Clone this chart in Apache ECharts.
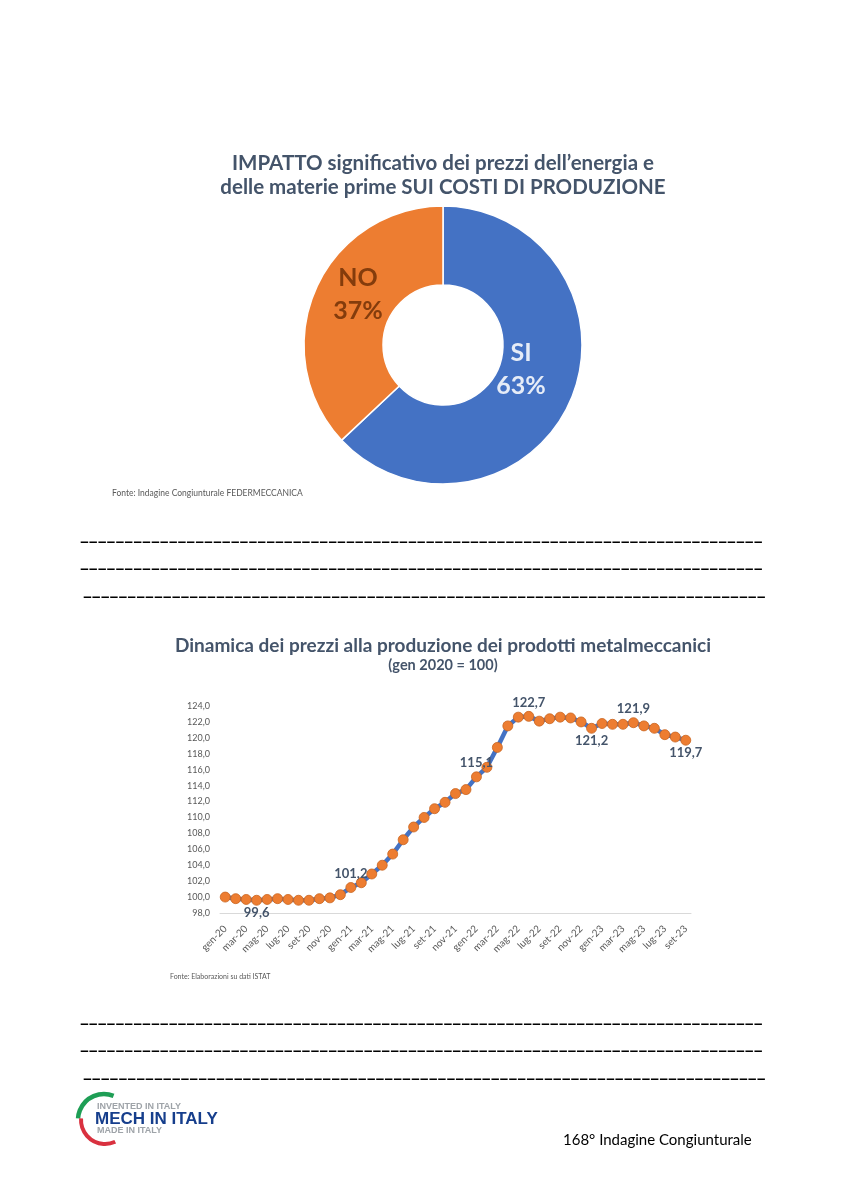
<!DOCTYPE html>
<html><head><meta charset="utf-8">
<script src="https://cdn.jsdelivr.net/npm/echarts@6/dist/echarts.min.js"></script>
<style>html,body{margin:0;padding:0;background:#fff}#c{width:849px;height:1200px}</style>
</head><body><div id="c"></div>
<script>
// ---- Data ----
const pieTitle = ["IMPATTO significativo dei prezzi dell\u2019energia e", "delle materie prime SUI COSTI DI PRODUZIONE"];
const pieCategories = ["SI", "NO"];
const pieValues = [63, 37];
const pieSource = "Fonte: Indagine Congiunturale FEDERMECCANICA";

const lineTitle = "Dinamica dei prezzi alla produzione dei prodotti metalmeccanici";
const lineSubtitle = "(gen 2020 = 100)";
const months = [
  "gen-20","feb-20","mar-20","apr-20","mag-20","giu-20","lug-20","ago-20","set-20","ott-20","nov-20","dic-20",
  "gen-21","feb-21","mar-21","apr-21","mag-21","giu-21","lug-21","ago-21","set-21","ott-21","nov-21","dic-21",
  "gen-22","feb-22","mar-22","apr-22","mag-22","giu-22","lug-22","ago-22","set-22","ott-22","nov-22","dic-22",
  "gen-23","feb-23","mar-23","apr-23","mag-23","giu-23","lug-23","ago-23","set-23"
];
const priceIndex = [
  100.0, 99.8, 99.7, 99.6, 99.7, 99.8, 99.7, 99.6, 99.6, 99.8, 99.9, 100.3,
  101.2, 101.8, 102.9, 104.0, 105.4, 107.2, 108.8, 110.0, 111.1, 111.9, 113.0, 113.5,
  115.1, 116.3, 118.8, 121.5, 122.6, 122.7, 122.1, 122.4, 122.6, 122.5, 122.0, 121.2,
  121.8, 121.7, 121.7, 121.9, 121.5, 121.2, 120.4, 120.1, 119.7
];
const labeledMonths = ["apr-20", "gen-21", "gen-22", "giu-22", "dic-22", "apr-23", "set-23"];
const labelBelow = ["apr-20", "dic-22", "set-23"];
const yMin = 98, yMax = 124, yStep = 2;
const lineSource = "Fonte: Elaborazioni su dati ISTAT";
const footerText = "168\u00b0 Indagine Congiunturale";
const logoTexts = ["INVENTED IN ITALY", "MECH IN ITALY", "MADE IN ITALY"];

// ---- Styles ----
const TITLE_COLOR = "#44546A";
const BLUE = "#4472C4", ORANGE = "#ED7D31";
const fmt = v => v.toFixed(1).replace(".", ",");

function underscores(font, width) {
  const cv = document.createElement("canvas").getContext("2d");
  cv.font = font;
  const w = cv.measureText("_").width;
  return "_".repeat(Math.round(width / w));
}
const ulFont = "bold 19px Lato";
const ulStr = underscores(ulFont, 683);

const chart = echarts.init(document.getElementById("c"), null, {renderer: "canvas"});

const lineData = priceIndex.map((v, i) => {
  const m = months[i];
  if (labeledMonths.includes(m)) {
    const below = labelBelow.includes(m);
    return {
      value: v,
      label: {
        show: true,
        position: below ? "bottom" : "top",
        distance: below ? 1 : 2,
        offset: m === "set-23" ? [10, 0] : (m === "gen-21" || m === "gen-22" ? [-1, 0] : [0, 0]),
        formatter: p => fmt(p.value),
        fontFamily: "Lato", fontWeight: "bold", fontSize: 13, color: TITLE_COLOR
      }
    };
  }
  return v;
});

const graphics = [];
function txt(x, y, text, font, fill, align) {
  graphics.push({type: "text", x: x, y: y, z: 10,
    style: {text: text, font: font, fill: fill, align: align || "left", verticalAlign: "middle"}});
}
// Pie title
txt(443, 163, pieTitle[0], "bold 20.5px Lato", TITLE_COLOR, "center");
txt(443, 187, pieTitle[1], "bold 20.5px Lato", TITLE_COLOR, "center");
txt(112, 493, pieSource, "8.5px Lato", "#595959");
// underscore lines
[[80, 543], [80, 570], [83, 598], [80, 1025], [80, 1052], [83, 1080]].forEach(p => {
  graphics.push({type: "text", x: p[0], y: p[1], z: 10,
    style: {text: ulStr, font: ulFont, fill: "#000", verticalAlign: "bottom"}});
});
// Line chart title
txt(443, 646, lineTitle, "bold 19px Lato", TITLE_COLOR, "center");
txt(443, 665, lineSubtitle, "bold 14.5px Lato", TITLE_COLOR, "center");
txt(170, 977, lineSource, "7px Lato", "#595959");
// footer
txt(563, 1140, footerText, "15px Lato", "#000");
// logo
graphics.push({type: "arc", z: 10, shape: {cx: 104, cy: 1120, r: 26, startAngle: -Math.PI * 0.38, endAngle: Math.PI * 1.02, clockwise: false},
  style: {stroke: "#1E9E55", lineWidth: 4.5, fill: null}});
graphics.push({type: "arc", z: 10, shape: {cx: 105, cy: 1120, r: 24, startAngle: Math.PI * 1.02, endAngle: Math.PI * 0.36, clockwise: false},
  style: {stroke: "#D9313F", lineWidth: 4, fill: null}});
txt(97, 1107, logoTexts[0], "bold 9px Liberation Sans", "#9EA3A8");
txt(95, 1119, logoTexts[1], "bold 17px Liberation Sans", "#163E8C");
txt(97, 1131, logoTexts[2], "bold 9px Liberation Sans", "#9EA3A8");

const option = {
  backgroundColor: "#fff",
  animation: false,
  graphic: graphics,
  grid: {left: 220, right: 158, top: 706, bottom: 287, containLabel: false},
  xAxis: {
    type: "category", data: months, boundaryGap: true,
    axisLine: {lineStyle: {color: "#D9D9D9", width: 1}},
    axisTick: {show: false},
    axisLabel: {interval: 1, rotate: 45, fontFamily: "Lato", fontSize: 10, color: "#595959", margin: 14}
  },
  yAxis: {
    type: "value", min: yMin, max: yMax, interval: yStep,
    axisLine: {show: false}, axisTick: {show: false}, splitLine: {show: false},
    axisLabel: {formatter: v => fmt(v), fontFamily: "Lato", fontSize: 9, color: "#595959", margin: 10}
  },
  series: [
    {
      type: "pie", center: [443, 345], radius: [60, 139], startAngle: 90, clockwise: true,
      label: {
        show: true, position: "inside",
        formatter: p => p.name + "\n" + p.value + "%",
        fontFamily: "Lato", fontWeight: "bold", fontSize: 25, lineHeight: 33
      },
      labelLine: {show: false},
      labelLayout: p => p.dataIndex === 0 ? {dx: -16, dy: -16} : {dx: 9, dy: -10},
      itemStyle: {borderColor: "#fff", borderWidth: 1.5},
      emphasis: {disabled: true},
      data: pieCategories.map((c, i) => ({
        name: c, value: pieValues[i],
        itemStyle: {color: i === 0 ? BLUE : ORANGE},
        label: {color: i === 0 ? "#E6ECF7" : "#843C0C"}
      }))
    },
    {
      type: "line", data: lineData,
      showAllSymbol: true,
      lineStyle: {color: BLUE, width: 4.5},
      symbol: "circle", symbolSize: 10,
      itemStyle: {color: ORANGE, borderColor: "#C9651F", borderWidth: 0.8},
      labelLayout: {hideOverlap: false},
      z: 5
    }
  ]
};
chart.setOption(option);
</script>
</body></html>
